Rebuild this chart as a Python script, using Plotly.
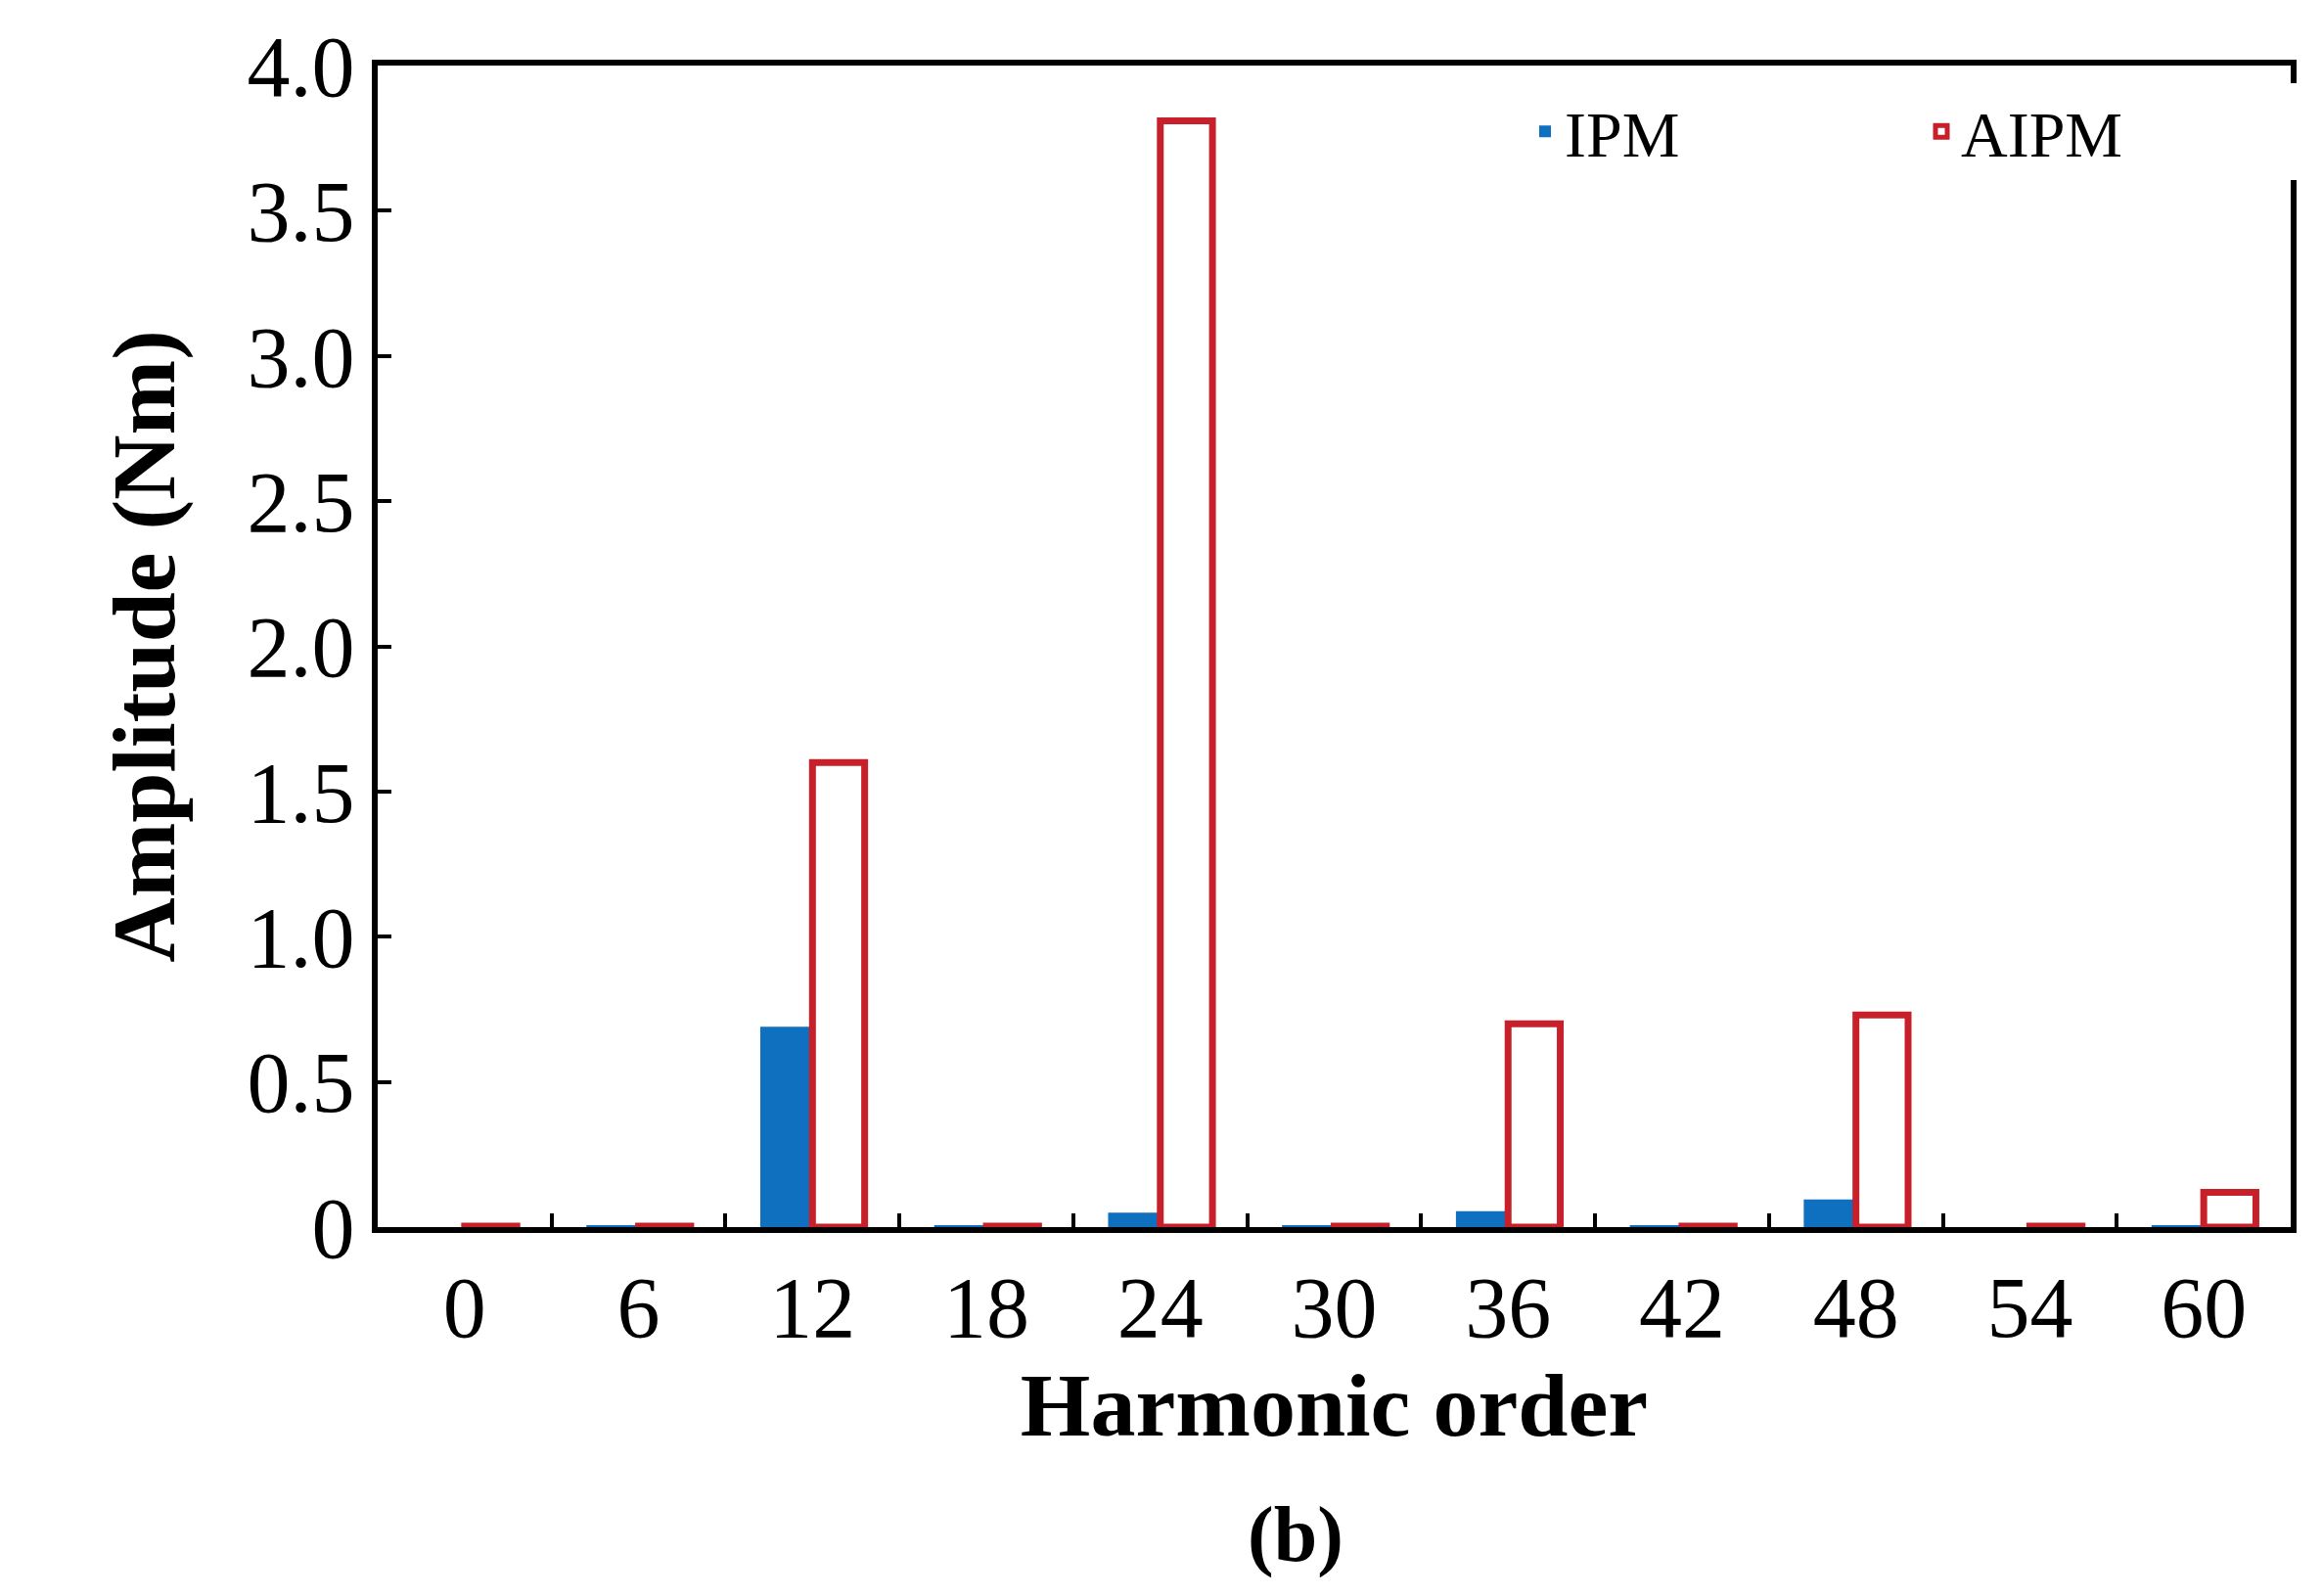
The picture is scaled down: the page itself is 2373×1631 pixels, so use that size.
import plotly.graph_objects as go

categories = ["0", "6", "12", "18", "24", "30", "36", "42", "48", "54", "60"]
ipm = [0.0, 0.005, 0.69, 0.005, 0.05, 0.005, 0.055, 0.005, 0.095, 0.0, 0.005]
aipm = [0.003, 0.003, 1.60, 0.003, 3.81, 0.003, 0.70, 0.003, 0.73, 0.003, 0.12]
yticks = [0, 0.5, 1.0, 1.5, 2.0, 2.5, 3.0, 3.5, 4.0]
yticklabels = ["0", "0.5", "1.0", "1.5", "2.0", "2.5", "3.0", "3.5", "4.0"]

font = "Liberation Serif"
fig = go.Figure()
fig.add_trace(go.Bar(x=categories, y=ipm, name="IPM", marker=dict(color="#1070C0", line=dict(width=0))))
fig.add_trace(go.Bar(x=categories, y=aipm, name="AIPM",
                     marker=dict(color="white", line=dict(color="#C8202A", width=7))))
fig.update_layout(
    width=2373, height=1631, autosize=False,
    margin=dict(l=378, r=28, t=50, b=385),
    plot_bgcolor="white", paper_bgcolor="white",
    barmode="group", bargap=0.4, bargroupgap=0,
    font=dict(family=font, color="black", size=88),
    legend=dict(orientation="h", x=0.6, y=0.985, xanchor="left", yanchor="top",
                font=dict(size=66), itemwidth=30, tracegroupgap=0, entrywidth=360),
    showlegend=True,
)
fig.update_xaxes(type="category", tickson="boundaries", ticks="inside", ticklen=14, tickwidth=4,
                 tickcolor="black", showline=True, linecolor="black", linewidth=6, mirror=True,
                 title=dict(text="<b>Harmonic order</b>", font=dict(size=92), standoff=10),
                 tickfont=dict(size=88), showgrid=False)
fig.update_yaxes(range=[0, 4.0], tickvals=yticks, ticktext=yticklabels, ticks="inside", ticklen=14,
                 tickwidth=4, tickcolor="black", showline=True, linecolor="black", linewidth=6,
                 mirror=True, showgrid=False, zeroline=False,
                 title=dict(text="<b>Amplitude (Nm)</b>", font=dict(size=92), standoff=45),
                 tickfont=dict(size=88))
fig.add_annotation(text="<b>(b)</b>", xref="paper", yref="paper", x=0.48, y=-0.265,
                   showarrow=False, font=dict(size=80, family=font), yanchor="middle")
fig.write_html("out.html")
